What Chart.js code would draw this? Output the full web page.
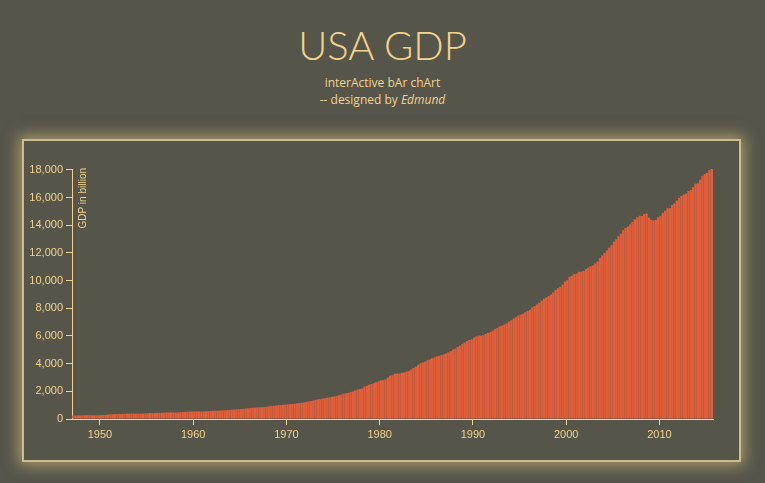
<!DOCTYPE html>
<html>
<head>
<meta charset="utf-8">
<title>USA GDP</title>
<script src="https://cdn.jsdelivr.net/npm/chart.js@4.4.1/dist/chart.umd.min.js"></script>
<style>
  html, body { margin: 0; padding: 0; }
  body { width: 765px; height: 483px; background: #56554a; position: relative; overflow: hidden; font-family: 'Open Sans', sans-serif; color: #f2d38e; }
  #title { position: absolute; left: 0; width: 765px; top: 20px; text-align: center; font-family: 'Lato', sans-serif; font-weight: 300; font-size: 40px; line-height: 50px; }
  #sub { position: absolute; left: 0; width: 765px; top: 74px; text-align: center; font-size: 12px; line-height: 17px; }
  #panel { position: absolute; left: 22px; top: 139px; width: 715px; height: 319px; border: 2px solid #cdbd8c; box-shadow: 0 0 14px 3px rgba(240, 215, 140, 0.55); }
  #chartBox { position: absolute; left: 0; top: 0; width: 715px; height: 319px; }
</style>
</head>
<body>
<div id="title">USA GDP</div>
<div id="sub">interActive bAr chArt<br>-- designed by <em>Edmund</em></div>
<div id="panel"><div id="chartBox"><canvas id="gdpChart"></canvas></div></div>
<script>
// quarterly GDP, billions of dollars, 1947 Q1 .. 2015 Q3
const startYear = 1947;
const gdpValues = [
  243.1, 246.3, 250.1, 260.3, 266.2, 272.9, 279.5, 280.7, 275.4, 271.7, 273.3, 271.0,
  281.2, 290.7, 308.5, 320.3, 336.4, 344.5, 351.8, 356.6, 360.2, 361.4, 368.1, 381.2,
  388.5, 392.3, 391.7, 386.5, 385.9, 386.7, 391.6, 400.3, 413.8, 422.2, 430.9, 437.8,
  440.5, 446.8, 452.0, 461.3, 470.6, 472.8, 480.3, 475.7, 468.4, 472.8, 486.7, 500.4,
  511.1, 524.2, 525.2, 529.3, 543.3, 542.7, 546.0, 541.1, 545.9, 557.4, 568.2, 581.6,
  595.2, 602.6, 609.6, 613.1, 622.7, 631.8, 645.0, 654.8, 671.1, 680.8, 692.8, 698.4,
  719.2, 732.4, 750.2, 773.1, 797.3, 807.2, 820.8, 834.9, 846.0, 851.1, 866.6, 883.2,
  911.1, 936.3, 952.3, 970.1, 995.4, 1011.4, 1032.0, 1040.7, 1053.5, 1070.1, 1088.5, 1091.5,
  1137.8, 1159.4, 1180.3, 1193.6, 1233.8, 1270.1, 1293.8, 1332.0, 1380.7, 1417.6, 1436.8, 1479.1,
  1494.7, 1534.2, 1563.4, 1603.0, 1619.6, 1656.4, 1713.8, 1765.9, 1824.5, 1856.9, 1890.5, 1938.4,
  1992.5, 2060.2, 2122.4, 2168.7, 2208.7, 2336.6, 2398.9, 2482.2, 2531.6, 2595.9, 2670.4, 2730.7,
  2796.5, 2799.9, 2860.0, 2993.5, 3131.8, 3167.3, 3261.2, 3283.5, 3273.8, 3331.3, 3367.1, 3407.8,
  3480.3, 3583.8, 3692.3, 3796.1, 3912.8, 4015.0, 4087.4, 4147.6, 4237.0, 4302.3, 4394.6, 4453.1,
  4516.3, 4555.2, 4619.6, 4669.4, 4736.2, 4821.5, 4900.5, 5022.7, 5090.6, 5207.7, 5299.5, 5412.7,
  5527.4, 5628.4, 5711.6, 5763.4, 5890.8, 5974.7, 6029.5, 6023.3, 6054.9, 6143.6, 6218.4, 6279.3,
  6380.8, 6492.3, 6586.5, 6697.6, 6748.2, 6829.6, 6904.2, 7032.8, 7136.3, 7269.8, 7352.3, 7476.7,
  7545.3, 7604.9, 7706.5, 7799.5, 7893.1, 8061.5, 8159.0, 8287.1, 8402.1, 8551.9, 8691.8, 8788.3,
  8889.7, 8994.7, 9146.5, 9325.7, 9447.1, 9557.0, 9712.3, 9926.1, 10031.0, 10278.3, 10357.4, 10472.3,
  10508.1, 10638.4, 10639.5, 10701.3, 10834.4, 10934.8, 11037.1, 11103.8, 11230.1, 11370.7, 11625.1, 11816.8,
  11988.4, 12181.4, 12367.7, 12562.2, 12813.7, 12974.1, 13205.4, 13381.6, 13648.9, 13799.8, 13908.5, 14066.4,
  14233.2, 14422.3, 14569.7, 14685.3, 14668.4, 14813.0, 14843.0, 14549.9, 14383.9, 14340.4, 14384.1, 14566.5,
  14681.1, 14888.6, 15057.7, 15230.2, 15238.4, 15460.9, 15587.1, 15785.3, 15973.9, 16121.9, 16227.9, 16297.3,
  16475.4, 16541.4, 16749.3, 16999.9, 17025.2, 17285.6, 17569.4, 17692.2, 17783.6, 17998.3, 18064.7
];
const yearTicks = [1950, 1960, 1970, 1980, 1990, 2000, 2010];
const gdpTicks = [0, 2000, 4000, 6000, 8000, 10000, 12000, 14000, 16000, 18000];

const inkColor = '#f2d38e';
const barColor = '#e05e3a';

// each quarter sits in the middle of its own quarter-year slot
const points = gdpValues.map((v, i) => ({ x: startYear + i * 0.25 + 0.125, y: v }));
const endYear = startYear + gdpValues.length * 0.25;
const maxGdp = Math.max(...gdpValues);

const yLabelPlugin = {
  id: 'yLabel',
  afterDraw(chart) {
    const ctx = chart.ctx;
    const area = chart.chartArea;
    ctx.save();
    ctx.translate(area.left + 14, area.top - 1);
    ctx.rotate(-Math.PI / 2);
    ctx.fillStyle = inkColor;
    ctx.font = '10px "Liberation Sans", Arial, sans-serif';
    ctx.textAlign = 'right';
    ctx.textBaseline = 'alphabetic';
    ctx.fillText('GDP in billion', 0, 0);
    ctx.restore();
  }
};

Chart.defaults.font.family = '"Liberation Sans", Arial, sans-serif';
Chart.defaults.font.size = 11;
Chart.defaults.color = inkColor;

new Chart(document.getElementById('gdpChart'), {
  type: 'bar',
  data: {
    datasets: [{
      data: points,
      backgroundColor: barColor,
      borderWidth: 0,
      inflateAmount: 0,
      barPercentage: 1,
      categoryPercentage: 1
    }]
  },
  options: {
    responsive: true,
    maintainAspectRatio: false,
    animation: false,
    layout: { padding: { left: 0, right: 26, top: 28, bottom: 0 } },
    plugins: { legend: { display: false }, tooltip: { enabled: true } },
    scales: {
      x: {
        type: 'linear',
        offset: false,
        min: startYear,
        max: endYear,
        afterBuildTicks: (scale) => { scale.ticks = yearTicks.map(v => ({ value: v })); },
        afterFit: (scale) => { scale.height = 41; },
        ticks: { color: inkColor, padding: 3, callback: (v) => String(v) },
        grid: { offset: false, drawOnChartArea: false, drawTicks: true, tickLength: 6, color: inkColor },
        border: { color: inkColor, width: 1 }
      },
      y: {
        min: 0,
        max: maxGdp,
        afterBuildTicks: (scale) => { scale.ticks = gdpTicks.map(v => ({ value: v })); },
        afterFit: (scale) => { scale.width = 48; },
        ticks: { color: inkColor, padding: 3 },
        grid: { drawOnChartArea: false, drawTicks: true, tickLength: 6, color: inkColor },
        border: { color: inkColor, width: 1 }
      }
    }
  },
  plugins: [yLabelPlugin]
});
</script>
</body>
</html>
